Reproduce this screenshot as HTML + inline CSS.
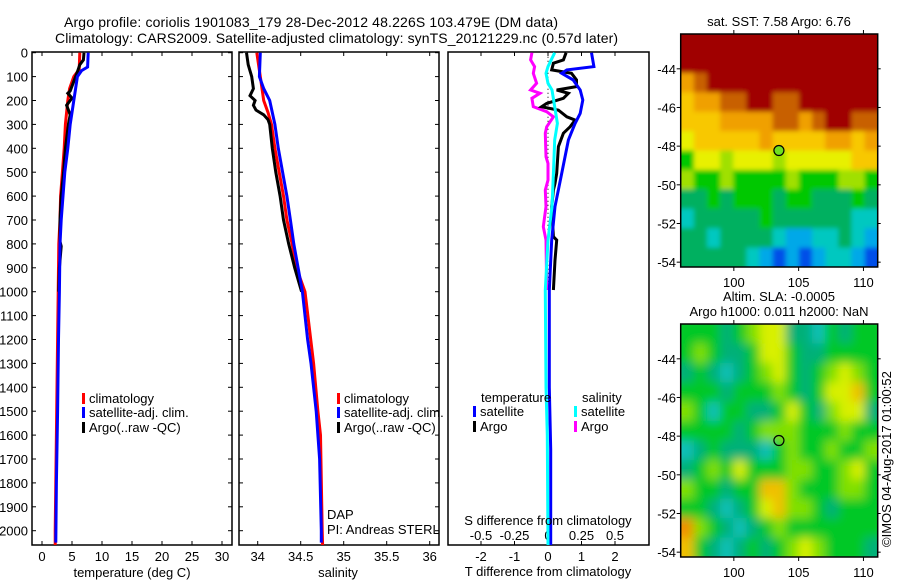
<!DOCTYPE html>
<html><head><meta charset="utf-8"><style>
body{margin:0;background:#fff;}
svg{display:block;font-family:"Liberation Sans",sans-serif;font-size:13px;}
</style></head><body>
<svg id="chart" width="900" height="580" viewBox="0 0 900 580">
<defs>
<filter id="blurS" x="-5%" y="-5%" width="110%" height="110%"><feGaussianBlur stdDeviation="2.5"/></filter>
<filter id="blurA" x="-5%" y="-5%" width="110%" height="110%"><feGaussianBlur stdDeviation="5"/></filter>
<clipPath id="clipSst"><rect x="680.7" y="34" width="197" height="233"/></clipPath>
<clipPath id="clipSla"><rect x="680.7" y="324" width="197" height="233"/></clipPath>
</defs>
<g id="g"></g>
<text x="64" y="27" font-size="14" textLength="494">Argo profile: coriolis 1901083_179 28-Dec-2012 48.226S 103.479E (DM data)</text>
<text x="55" y="43" font-size="14" textLength="563">Climatology: CARS2009. Satellite-adjusted climatology: synTS_20121229.nc (0.57d later)</text>
<text x="132" y="577" text-anchor="middle">temperature (deg C)</text>
<text x="338" y="577" text-anchor="middle">salinity</text>
<text x="548" y="576" text-anchor="middle">T difference from climatology</text>
<text x="548" y="525" text-anchor="middle">S difference from climatology</text>
<text x="327" y="519">DAP</text>
<text x="327" y="534">PI: Andreas STERL</text>
<text x="779" y="26" text-anchor="middle">sat. SST: 7.58 Argo: 6.76</text>
<text x="779" y="301" text-anchor="middle">Altim. SLA: -0.0005</text>
<text x="779" y="316" text-anchor="middle">Argo h1000: 0.011 h2000: NaN</text>
<text transform="translate(891,547) rotate(-90)">©IMOS 04-Aug-2017 01:00:52</text>
</svg>
<script>
// ---- data ----
const tClimDepth=[0,70,100,150,200,300,400,500,600,700,800,1000,1200,1500,1800,2000,2060];
const tClimVal=[6.3,6.2,5.3,4.6,4.3,3.9,3.7,3.4,3.1,3.0,2.8,2.7,2.6,2.45,2.3,2.2,2.2];
const tSatDepth=[0,60,75,100,200,250,300,400,500,600,700,800,1000,1200,1500,1800,2050];
const tSatVal=[7.7,7.6,6.6,5.9,5.3,5.0,4.7,4.3,3.8,3.5,3.2,3.0,2.9,2.75,2.6,2.4,2.3];
const tArgoDepth=[0,30,50,80,120,160,170,190,220,260,300,400,500,600,700,790,810,900,1000];
const tArgoVal=[7.0,6.9,6.3,5.9,5.3,4.7,4.3,5.0,4.1,4.7,4.4,3.9,3.6,3.2,3.0,3.0,3.2,2.9,2.8];
const sClimDepth=[0,100,200,250,300,400,500,600,700,800,900,1000,1300,1500,1600,2000,2060];
const sClimVal=[33.99,34.03,34.07,34.12,34.16,34.20,34.25,34.30,34.34,34.40,34.45,34.55,34.65,34.70,34.73,34.75,34.755];
const sSatDepth=[0,100,150,200,300,400,500,600,700,800,900,1000,1200,1300,1500,1700,2000,2050];
const sSatVal=[34.03,34.02,34.07,34.14,34.20,34.24,34.29,34.34,34.38,34.42,34.47,34.52,34.58,34.62,34.68,34.72,34.74,34.74];
const sArgoDepth=[0,50,100,150,180,200,220,240,260,280,300,400,500,600,700,800,900,1000];
const sArgoVal=[33.87,33.89,33.93,33.95,33.91,33.97,33.95,33.98,34.07,34.12,34.14,34.17,34.21,34.26,34.30,34.36,34.43,34.51];
const dTSatDepth=[0,58,72,86,114,156,198,254,296,365,505,644,784,993,1400,1660,2060];
const dTSatVal=[1.3,1.37,0.56,0.41,0.75,0.96,1.04,0.96,0.81,0.61,0.41,0.21,0.11,0.04,0.04,0.08,0.08];
const dTArgoDepth=[0,30,44,72,86,114,142,156,170,191,212,226,240,268,282,310,337,393,505,547,575,644,770,784,868,993];
const dTArgoVal=[0.54,0.46,0.16,0.11,0.7,0.85,0.85,0.26,0.61,0.46,-0.04,-0.19,0.31,0.56,0.81,0.66,0.46,0.31,0.26,0.21,0.16,0.11,0.16,0.26,0.21,0.16];
const dSSatDepth=[0,58,86,128,156,226,296,365,505,644,784,993,1400,1600,2060];
const dSSatVal=[0.05,0,-0.015,0,0.03,0.05,0.07,0.05,0.04,0.03,0,-0.02,-0.015,-0.005,0];
const dSArgoDepth=[0,30,58,86,128,156,170,191,226,247,268,310,337,435,463,533,575,644,728,784,993];
const dSArgoVal=[-0.12,-0.13,-0.10,-0.11,-0.085,-0.13,-0.06,-0.12,-0.11,-0.01,0.04,-0.01,-0.02,-0.015,0,0,-0.02,-0.015,-0.035,-0.015,-0.01];
const depthTicks=[0,100,200,300,400,500,600,700,800,900,1000,1100,1200,1300,1400,1500,1600,1700,1800,1900,2000];
const tTicks=[0,5,10,15,20,25,30];
const sTicks=[34,34.5,35,35.5,36];
const sTickLabels=["34","34.5","35","35.5","36"];
const dTTicks=[-2,-1,0,1,2];
const dSTicks=[-0.5,-0.25,0,0.25,0.5];
const dSTickLabels=["-0.5","-0.25","0","0.25","0.5"];
const lonTicks=[100,105,110];
const latTicks=[-44,-46,-48,-50,-52,-54];
const argoLon=103.479, argoLat=-48.226;
const sstGrid=[
[9,9,9,9,9,9,9,9,9,9,9,9,9,9,9],
[9,9,9,9,9,9,9,9,9,9,9,9,9,9,9],
[7,8,9,9,9,9,9,9,9,9,9,9,9,9,9],
[6,7,7,8,8,9,9,8,8,9,9,9,9,9,9],
[6,6,6,7,7,7,7,8,8,7,8,9,9,8,8],
[5,6,6,6,6,6,7,6,6,6,6,7,7,6,7],
[3,5,5,4,5,5,5,4,5,5,5,5,5,6,6],
[4,3,3,4,3,3,3,3,4,3,3,3,4,4,3],
[2,2,3,2,3,3,3,2,3,3,2,2,2,3,2],
[1,2,2,2,2,2,3,2,2,2,2,2,2,1,1],
[2,2,1,2,2,2,2,1,0,0,1,1,2,1,0],
[2,2,2,2,2,1,0,-1,0,-1,0,1,1,0,-1]];
const slaGrid=[
[2,2,2,1,2,3,4,4,1,1,0,2,1,2,2],
[2,3,2,1,1,2,4,4,2,1,1,2,2,2,2],
[1,2,1,0,1,2,3,4,2,1,2,3,4,3,2],
[2,2,2,1,2,2,2,3,2,1,2,4,4,5,2],
[3,2,0,2,2,1,1,2,4,2,1,3,4,4,1],
[2,2,2,2,1,2,3,3,3,2,2,2,3,2,2],
[0,1,2,1,1,1,0,2,3,2,2,3,2,2,3],
[1,2,3,2,4,2,2,2,3,3,2,2,3,4,2],
[3,2,2,1,2,2,5,5,3,2,2,2,3,3,2],
[2,2,1,0,1,2,4,5,3,3,2,1,2,2,2],
[6,3,2,1,0,1,2,3,2,2,2,2,2,2,2],
[5,2,1,0,1,2,1,2,3,4,3,2,2,2,1]];

// ---- styles / geometry ----
const NS="http://www.w3.org/2000/svg";
const G=document.getElementById('g');
function el(tag,attrs,parent){const e=document.createElementNS(NS,tag);for(const k in attrs)e.setAttribute(k,attrs[k]);(parent||G).appendChild(e);return e;}
const yTop=52, yBot=545;
function yD(d){return 52.7+d*0.239;}
function lin(d0,d1,r0,r1){return v=>r0+(v-d0)*(r1-r0)/(d1-d0);}
const xT=lin(0,30,42,222), xS=lin(34,36,257.7,429.7), xDT=lin(0,1,548,581.5), xDS=lin(0,0.25,548,581.5);
const sstCol={"-1":"#0050e8","0":"#00a8e8","1":"#00c8c0","2":"#00b060","3":"#00c800","4":"#a0e000","5":"#e8f000","6":"#f8c800","7":"#f0a000","8":"#c86000","9":"#a00000"};
const slaCol={"0":"#10c0b8","1":"#00b078","2":"#00c828","3":"#80e000","4":"#d8f000","5":"#f0c000","6":"#f09000"};

function panel(x0,x1,name,leftLabels){
  const f=el('rect',{x:x0,y:yTop,width:x1-x0,height:yBot-yTop,fill:'none',stroke:'#000','stroke-width':1.5});
  
  
  depthTicks.forEach(d=>{
    const y=yD(d);
    const t1=el('line',{x1:x0,x2:x0+4,y1:y,y2:y,stroke:'#000'});
    
    
    const t2=el('line',{x1:x1-4,x2:x1,y1:y,y2:y,stroke:'#000'});
    
    
    if(leftLabels){
      const t=el('text',{x:28,y:y+5,'text-anchor':'end'});t.textContent=d;
      
      
    }
  });
}
function xticks(ticks,labels,scale,name,ly){
  ticks.forEach((v,i)=>{
    const x=scale(v);
    const a=el('line',{x1:x,x2:x,y1:yTop,y2:yTop+4,stroke:'#000'});
    
    
    const b=el('line',{x1:x,x2:x,y1:yBot-4,y2:yBot,stroke:'#000'});
    
    
    if(ly){const t=el('text',{x:x,y:ly,'text-anchor':'middle'});t.textContent=labels[i];
      
      }
  });
}
function profile(depths,vals,scale,color,name,w){
  const pts=depths.map((d,i)=>scale(vals[i]).toFixed(1)+','+yD(d).toFixed(1)).join(' ');
  const p=el('polyline',{points:pts,fill:'none',stroke:color,'stroke-width':w||3,'stroke-linejoin':'miter'});
  
  
}
function legend(x,y,color,label,name){
  const r=el('rect',{x:x,y:y-10,width:3,height:11,fill:color});
  
  
  const t=el('text',{x:x+7,y:y});t.textContent=label;
  
  
}

// panel 1 temperature
panel(32,232,'temperature-panel',true);
xticks(tTicks,tTicks.map(String),xT,'temperature-x',561);
profile(tClimDepth,tClimVal,xT,'#ff0000','temperature-climatology-line');
profile(tArgoDepth,tArgoVal,xT,'#000','temperature-argo-line');
profile(tSatDepth,tSatVal,xT,'#0000ff','temperature-satellite-line');
legend(82,403,'#ff0000','climatology','legend-temp-climatology');
legend(82,417,'#0000ff','satellite-adj. clim.','legend-temp-satellite');
legend(82,432,'#000','Argo(..raw -QC)','legend-temp-argo');

// panel 2 salinity
panel(239,439,'salinity-panel',false);
xticks(sTicks,sTickLabels,xS,'salinity-x',561);
profile(sClimDepth,sClimVal,xS,'#ff0000','salinity-climatology-line');
profile(sArgoDepth,sArgoVal,xS,'#000','salinity-argo-line');
profile(sSatDepth,sSatVal,xS,'#0000ff','salinity-satellite-line');
legend(337,403,'#ff0000','climatology','legend-sal-climatology');
legend(337,417,'#0000ff','satellite-adj. clim.','legend-sal-satellite');
legend(337,432,'#000','Argo(..raw -QC)','legend-sal-argo');

// panel 3 differences
const f3=el('rect',{x:448,y:yTop,width:201,height:yBot-yTop,fill:'none',stroke:'#000','stroke-width':1.5});


xticks(dTTicks,dTTicks.map(String),xDT,'t-difference-x',561);
dSTicks.forEach((v,i)=>{const t=el('text',{x:xDS(v),y:540,'text-anchor':'middle'});t.textContent=dSTickLabels[i];
  
  });
const zl=el('line',{x1:xDT(0),x2:xDT(0),y1:yD(0),y2:yD(1000),stroke:'#000','stroke-dasharray':'1,3'});


profile(dSArgoDepth,dSArgoVal,xDS,'#ff00ff','s-difference-argo-line');
profile(dTArgoDepth,dTArgoVal,xDT,'#000','t-difference-argo-line');
profile(dTSatDepth,dTSatVal,xDT,'#0000ff','t-difference-satellite-line');
profile(dSSatDepth,dSSatVal,xDS,'#00ffff','s-difference-satellite-line');
const lt1=el('text',{x:481,y:402});lt1.textContent='temperature';


const lt2=el('text',{x:582,y:402});lt2.textContent='salinity';


legend(473,416,'#0000ff','satellite','legend-dt-satellite');
legend(473,431,'#000','Argo','legend-dt-argo');
legend(574,416,'#00ffff','satellite','legend-ds-satellite');
legend(574,431,'#ff00ff','Argo','legend-ds-argo');

// maps
function map(y0,y1,grid,cols,name,clip,filt){
  const x0=680.7,x1=877.7;
  const xL=lin(95.9,111.1,x0,x1), yL=lin(-42.2,-54.25,y0,y1);
  const nr=grid.length,nc=grid[0].length;
  const cw=(x1-x0)/nc, ch=(y1-y0)/nr;
  const outer=el('g',{'clip-path':'url(#'+clip+')'});
  
  
  const inner=el('g',{filter:'url(#'+filt+')'},outer);
  grid.forEach((row,r)=>row.forEach((v,c)=>{
    const cx=x0+c*cw-(c===0?8:0), cy=y0+r*ch-(r===0?8:0);
    const w=cw+0.6+(c===0?8:0)+(c===nc-1?8:0), h=ch+0.6+(r===0?8:0)+(r===nr-1?8:0);
    const cell=el('rect',{x:cx,y:cy,width:w,height:h,fill:cols[String(v)]},inner);
    
    
  }));
  const fr=el('rect',{x:x0,y:y0,width:x1-x0,height:y1-y0,fill:'none',stroke:'#000','stroke-width':1.5});
  
  
  lonTicks.forEach(v=>{const x=xL(v);
    const a=el('line',{x1:x,x2:x,y1:y0-4,y2:y0,stroke:'#000'});
    
    
    const b=el('line',{x1:x,x2:x,y1:y1,y2:y1+4,stroke:'#000'});
    
    
    const t=el('text',{x:x,y:y1+20,'text-anchor':'middle'});t.textContent=v;
    
    });
  latTicks.forEach(v=>{const y=yL(v);
    const a=el('line',{x1:x0-4,x2:x0,y1:y,y2:y,stroke:'#000'});
    
    
    const b=el('line',{x1:x1,x2:x1+3,y1:y,y2:y,stroke:'#000'});
    
    
    const t=el('text',{x:676,y:y+5,'text-anchor':'end'});t.textContent=v;
    
    });
  const c=el('circle',{cx:xL(argoLon),cy:yL(argoLat),r:5,fill:name==='sst-map'?'#70e020':'none',stroke:'#000','stroke-width':1.2});
  
  
}
map(34,267,sstGrid,sstCol,'sst-map','clipSst','blurS');
map(324,557,slaGrid,slaCol,'sla-map','clipSla','blurA');
</script>
</body></html>
